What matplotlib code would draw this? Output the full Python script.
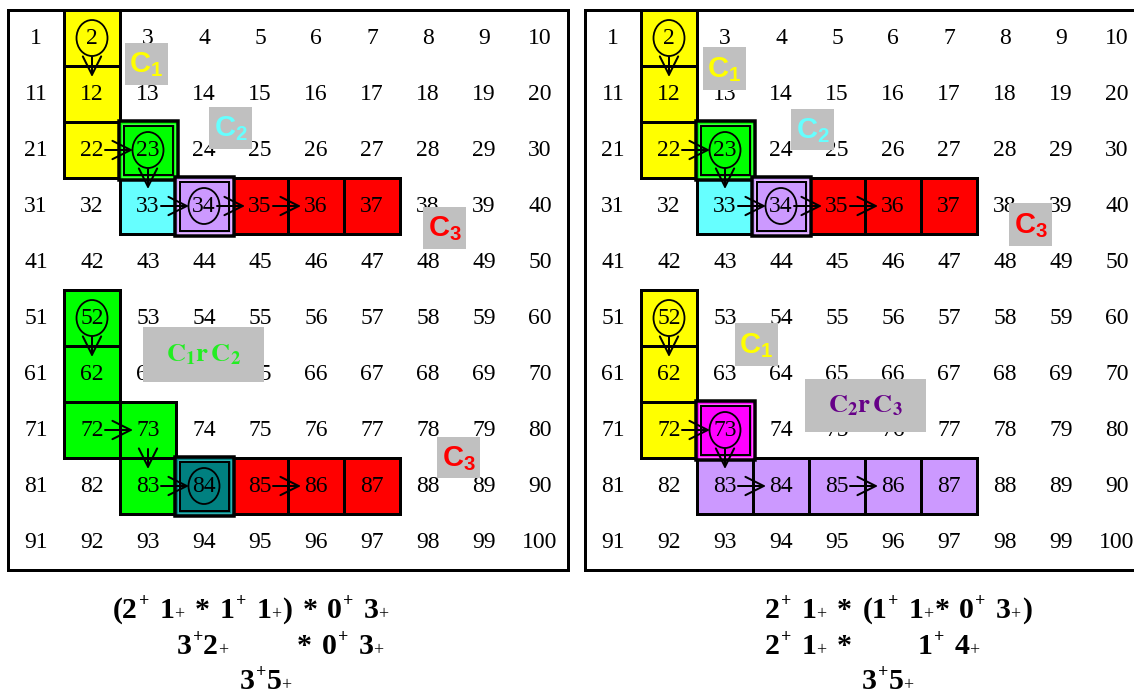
import matplotlib
matplotlib.use("Agg")
import matplotlib.pyplot as plt
import matplotlib.patches as patches

plt.rcParams["mathtext.fontset"] = "custom"
plt.rcParams["mathtext.bf"] = "Liberation Sans:bold"
plt.rcParams["mathtext.rm"] = "Liberation Sans"

# ---- data ----
YEL, GRN, CYA, LAV, RED, TEAL, MAG = ("#FFFF00", "#00FF00", "#66FFFF",
                                      "#CC99FF", "#FF0000", "#008080", "#FF00FF")

L_CELLS = [2, 12, 22, 23, 33, 34, 35, 36, 37, 52, 62, 72, 73, 83, 84, 85, 86, 87]
L_COLORS = [YEL, YEL, YEL, GRN, CYA, LAV, RED, RED, RED,
            GRN, GRN, GRN, GRN, GRN, TEAL, RED, RED, RED]
L_DOUBLE = [23, 34, 84]
L_CIRCLE = [2, 23, 34, 52, 84]
L_ARROWS = [(2, 12), (22, 23), (23, 33), (33, 34), (34, 35), (35, 36),
            (52, 62), (72, 73), (73, 83), (83, 84), (85, 86)]

R_CELLS = [2, 12, 22, 23, 33, 34, 35, 36, 37, 52, 62, 72, 73, 83, 84, 85, 86, 87]
R_COLORS = [YEL, YEL, YEL, GRN, CYA, LAV, RED, RED, RED,
            YEL, YEL, YEL, MAG, LAV, LAV, LAV, LAV, LAV]
R_DOUBLE = [23, 34, 73]
R_CIRCLE = [2, 23, 34, 52, 73]
R_ARROWS = [(2, 12), (22, 23), (23, 33), (33, 34), (34, 35), (35, 36),
            (52, 62), (72, 73), (73, 83), (83, 84), (85, 86)]

# label text, colour
L_LABELS = [("C", "1", YEL), ("C", "2", CYA), ("C", "3", RED),
            ("C1rC2", None, "#22EE22"), ("C", "3", RED)]
R_LABELS = [("C", "1", YEL), ("C", "2", CYA), ("C", "3", RED),
            ("C", "1", YEL), ("C2rC3", None, "#660088")]

# formula lines: "^+" superscript plus, "_+" subscript plus
L_FORMULA = ["(2^+ 1_+ * 1^+ 1_+) * 0^+ 3_+", "3^+2_+", "* 0^+ 3_+", "3^+5_+"]
R_FORMULA = ["2^+ 1_+ * (1^+ 1_+* 0^+ 3_+)", "2^+ 1_+ *", "1^+ 4_+", "3^+5_+"]

# ---- layout (pixels) ----
CELL = 56
Y0 = 10
PANEL_X = [8, 585]
L_LABEL_BOX = [(125, 43, 168, 85), (209, 107, 252, 149), (423, 207, 466, 249),
               (143, 327, 264, 382), (437, 437, 480, 478)]
R_LABEL_BOX = [(703, 47, 746, 90), (791, 109, 834, 150), (1009, 203, 1052, 246),
               (735, 323, 778, 366), (805, 379, 926, 432)]
L_FORMULA_POS = [(113, 618), (177, 654), (297, 654), (240, 689)]
R_FORMULA_POS = [(765, 618), (765, 654), (918, 654), (862, 689)]
INNER_LINE = {GRN: "#44FF44", LAV: "#E8B8FF", TEAL: "#30B0B0", MAG: "#FF66FF"}

PX = 0.72  # points per pixel at dpi 100

fig = plt.figure(figsize=(11.34, 6.95), dpi=100)
ax = fig.add_axes([0, 0, 1, 1])
ax.set_xlim(0, 1134)
ax.set_ylim(695, 0)
ax.axis("off")
renderer = fig.canvas.get_renderer()


def cell_origin(n, x0):
    r, c = divmod(n - 1, 10)
    return x0 + c * CELL, Y0 + r * CELL


def cell_center(n, x0):
    x, y = cell_origin(n, x0)
    return x + CELL / 2, y + CELL / 2


def draw_panel(x0, cells, colors, doubles, circles, arrows, labels, boxes):
    ax.add_patch(patches.Rectangle((x0, Y0), 10 * CELL, 10 * CELL, fc="white",
                                   ec="black", lw=3 * PX, zorder=1))
    colmap = dict(zip(cells, colors))
    for n in cells:
        if n in doubles:
            continue
        x, y = cell_origin(n, x0)
        ax.add_patch(patches.Rectangle((x, y), CELL, CELL, fc=colmap[n],
                                       ec="black", lw=3 * PX, zorder=2))
    for n in doubles:
        x, y = cell_origin(n, x0)
        col = colmap[n]
        ax.add_patch(patches.Rectangle((x - 1.5, y - 1.5), CELL + 3, CELL + 3,
                                       fc=col, ec="black", lw=3.5 * PX, zorder=3))
        ax.add_patch(patches.Rectangle((x + 1.5, y + 1.5), CELL - 3, CELL - 3,
                                       fc="none", ec=INNER_LINE[col], lw=1.2 * PX, zorder=3))
        ax.add_patch(patches.Rectangle((x + 3.5, y + 3.5), CELL - 7, CELL - 7,
                                       fc="none", ec="black", lw=2 * PX, zorder=3))
    for n in range(1, 101):
        cx, cy = cell_center(n, x0)
        ax.text(cx, cy + 1, str(n), ha="center", va="center", fontsize=17,
                family="Liberation Serif", color="black", zorder=4)
    for n in circles:
        cx, cy = cell_center(n, x0)
        ax.add_patch(patches.Ellipse((cx, cy), 31, 36, fc="none", ec="black",
                                     lw=1.8 * PX, zorder=5))
    for a, b in arrows:
        ax_, ay = cell_center(a, x0)
        bx, by = cell_center(b, x0)
        if b - a == 1:
            start, end = (ax_ + 13, ay), (bx - 15, by)
        else:
            start, end = (ax_, ay + 19), (bx, by - 17)
        ax.annotate("", xy=end, xytext=start, zorder=6,
                    arrowprops=dict(arrowstyle="->,head_length=0.6,head_width=0.3",
                                    lw=2 * PX, color="black",
                                    shrinkA=0, shrinkB=0, mutation_scale=22))
    for (txt, sub, col), (bx0, by0, bx1, by1) in zip(labels, boxes):
        ax.add_patch(patches.Rectangle((bx0, by0), bx1 - bx0, by1 - by0,
                                       fc="#C0C0C0", ec="none", zorder=7))
        cx, cy = (bx0 + bx1) / 2, (by0 + by1) / 2
        if sub is not None:
            s = r"$\mathbf{%s}_{\mathbf{%s}}$" % (txt, sub)
            ax.text(cx, cy + 1, s, ha="center", va="center", fontsize=21,
                    color=col, math_fontfamily="custom", zorder=8)
        else:
            a1, b1 = txt[1], txt[4]
            s = r"$\mathbf{C}_{\mathbf{%s}}\mathbf{r\,C}_{\mathbf{%s}}$" % (a1, b1)
            ax.text(cx, cy, s, ha="center", va="center", fontsize=19,
                    color=col, math_fontfamily="stix", zorder=8)


def draw_formula(x, y, expr):
    """Bold serif digits with small '+' raised (^+) or at the foot (_+)."""
    pieces = []
    i = 0
    buf = ""
    while i < len(expr):
        if expr[i] in "^_" and i + 1 < len(expr):
            if buf:
                pieces.append((buf, "n"))
                buf = ""
            pieces.append(("+", "sup" if expr[i] == "^" else "sub"))
            i += 2
        elif expr[i] == " ":
            if buf:
                pieces.append((buf, "n"))
                buf = ""
            pieces.append((None, "gap"))
            i += 1
        else:
            buf += expr[i]
            i += 1
    if buf:
        pieces.append((buf, "n"))
    for s, kind in pieces:
        if kind == "gap":
            x += 10
            continue
        if kind == "n":
            t = ax.text(x, y, s, fontsize=21.5, weight="bold", family="Liberation Serif",
                        ha="left", va="baseline", zorder=8)
        elif kind == "sup":
            t = ax.text(x + 1, y - 12, s, fontsize=13, weight="bold",
                        family="Liberation Serif", ha="left", va="baseline", zorder=8)
        else:
            t = ax.text(x, y + 1, s, fontsize=13, family="Liberation Serif",
                        ha="left", va="baseline", zorder=8)
        x += t.get_window_extent(renderer=renderer).width + (1 if kind != "n" else 0)


draw_panel(PANEL_X[0], L_CELLS, L_COLORS, L_DOUBLE, L_CIRCLE, L_ARROWS,
           L_LABELS, L_LABEL_BOX)
draw_panel(PANEL_X[1], R_CELLS, R_COLORS, R_DOUBLE, R_CIRCLE, R_ARROWS,
           R_LABELS, R_LABEL_BOX)

for expr, (x, y) in zip(L_FORMULA, L_FORMULA_POS):
    draw_formula(x, y, expr)
for expr, (x, y) in zip(R_FORMULA, R_FORMULA_POS):
    draw_formula(x, y, expr)

fig.savefig("out.png", dpi=100)
